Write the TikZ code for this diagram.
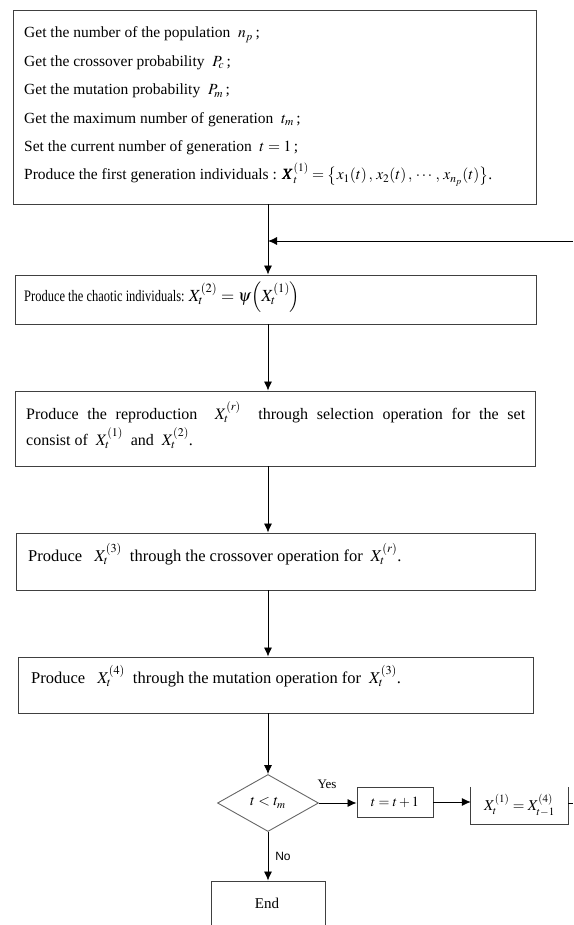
\documentclass[tikz,border=0pt]{standalone}
\usepackage{amsmath}
\usepackage{mathptmx}
\usepackage{bm}
\usepackage[no-math]{fontspec}
\setmainfont{Liberation Serif}
\newfontfamily\condfont[FakeStretch=0.78]{Liberation Serif}
\newfontfamily\sanslab{Liberation Sans}
\usetikzlibrary{arrows.meta,shapes.geometric}
\tikzset{
  box/.style={draw=black!75, line width=0.9pt, inner sep=0pt},
  txt/.style={anchor=base west, inner sep=0pt, font=\fontsize{16.5}{18}\selectfont},
  small/.style={inner sep=0pt, font=\fontsize{15}{17}\selectfont},
  arr/.style={-{Latex[length=9pt,width=8pt]}, line width=0.8pt, draw=black},
  plain/.style={line width=0.8pt, draw=black},
}
\begin{document}
\begin{tikzpicture}[x=1pt,y=-1pt]
\useasboundingbox (0,0) rectangle (573,925);
\clip (0,0) rectangle (573,925);
\coordinate (spine) at (268,0);
% top box
\node[box, minimum width=523pt, minimum height=194pt] (init) at (274.5,107) {};
\node[anchor=base west, inner sep=0pt] (tinit) at (24,38) {\parbox[t]{510pt}{\fontsize{15.5}{28.4}\selectfont
Get the number of the population \ $n_p$\,;\\
Get the crossover probability \ ${P}_{\!c}$\,;\\
Get the mutation probability \ ${P}_{\!m}$\,;\\
Get the maximum number of generation \ $t_m$\,;\\
Set the current number of generation \ $t=1$\,;\\
Produce the first generation individuals : $\bm{X}_t^{(1)}=\left\{x_1(t)\,,\,x_2(t)\,,\,\cdots,\,x_{n_p}(t)\right\}$.}};
% chaotic
\node[box, minimum width=521pt, minimum height=49pt] (chaos) at (275.5,299.5) {};
\node[anchor=base west, inner sep=0pt, font=\condfont\fontsize{16}{18}\selectfont] (tchaos) at (24,301) {Produce the chaotic individuals: {\fontsize{17}{19}\selectfont$X_t^{(2)}=\psi\!\left(X_t^{(1)}\right)$}};
% reproduction
\node[box, minimum width=520pt, minimum height=75pt] (repro) at (275,428.5) {};
\node[anchor=base west, inner sep=0pt, font=\fontsize{16}{18}\selectfont] (trepro) at (26,419) {\parbox[t]{499pt}{\baselineskip=26pt Produce the reproduction \ $X_t^{(r)}$ \ through selection operation for the set\linebreak consist of \ $X_t^{(1)}$ \ and \ $X_t^{(2)}$.}};
% crossover
\node[box, minimum width=519pt, minimum height=57pt] (cross) at (275.5,561.5) {};
\node[txt] (tcross) at (28,561) {Produce\hspace{12pt}$X_t^{(3)}$\hspace{8pt}through the crossover operation for\hspace{8pt}$X_t^{(r)}$.};
% mutation
\node[box, minimum width=515pt, minimum height=56pt] (mut) at (275.5,685) {};
\node[txt] (tmut) at (31,683) {Produce\hspace{12pt}$X_t^{(4)}$\hspace{8pt}through the mutation operation for\hspace{8pt}$X_t^{(3)}$.};
% decision
\node[diamond, draw=black!60, line width=0.9pt, minimum width=101pt, minimum height=57pt, aspect=1.77, inner sep=0pt, font=\fontsize{15}{17}\selectfont] (dec) at (268,803) {$t<t_m$};
\node[box, minimum width=76pt, minimum height=30pt, font=\fontsize{14}{16}\selectfont] (inc) at (395,802) {$t=t+1$};
\node[inner sep=0pt, minimum width=97pt, minimum height=37pt, font=\fontsize{15}{17}\selectfont] (upd) at (519.5,805.5) {$X_t^{(1)}=X_{t-1}^{(4)}$};
\draw[draw=black!75, line width=0.9pt] (upd.north west) -- (upd.south west) -- (upd.south east) -- (upd.north east);
\node[box, minimum width=114pt, minimum height=60pt] (endb) at (268,911) {};
\node[small] (tend) at (267,903) {End};
% labels
\node[inner sep=0pt, font=\fontsize{13}{15}\selectfont] (yes) at (327,784) {Yes};
\node[inner sep=0pt, font=\sanslab\fontsize{12}{14}\selectfont] (no) at (283,856) {No};
% connectors
\coordinate (fb) at (573,241);
\coordinate (loopend) at (573,803);
\draw[arr] (init.south -| spine) -- (chaos.north -| spine);
\draw[arr] (fb) -- (fb -| spine);
\draw[arr] (chaos.south -| spine) -- (repro.north -| spine);
\draw[arr] (repro.south -| spine) -- (cross.north -| spine);
\draw[arr] (cross.south -| spine) -- (mut.north -| spine);
\draw[arr] (mut.south -| spine) -- (dec.north);
\draw[arr] (dec.east) -- (dec.east -| inc.west);
\draw[arr] (inc.east) -- (inc.east -| upd.west);
\draw[plain] (upd.east |- loopend) -- (loopend);
\draw[arr] (dec.south) -- (endb.north);
\end{tikzpicture}
\end{document}
